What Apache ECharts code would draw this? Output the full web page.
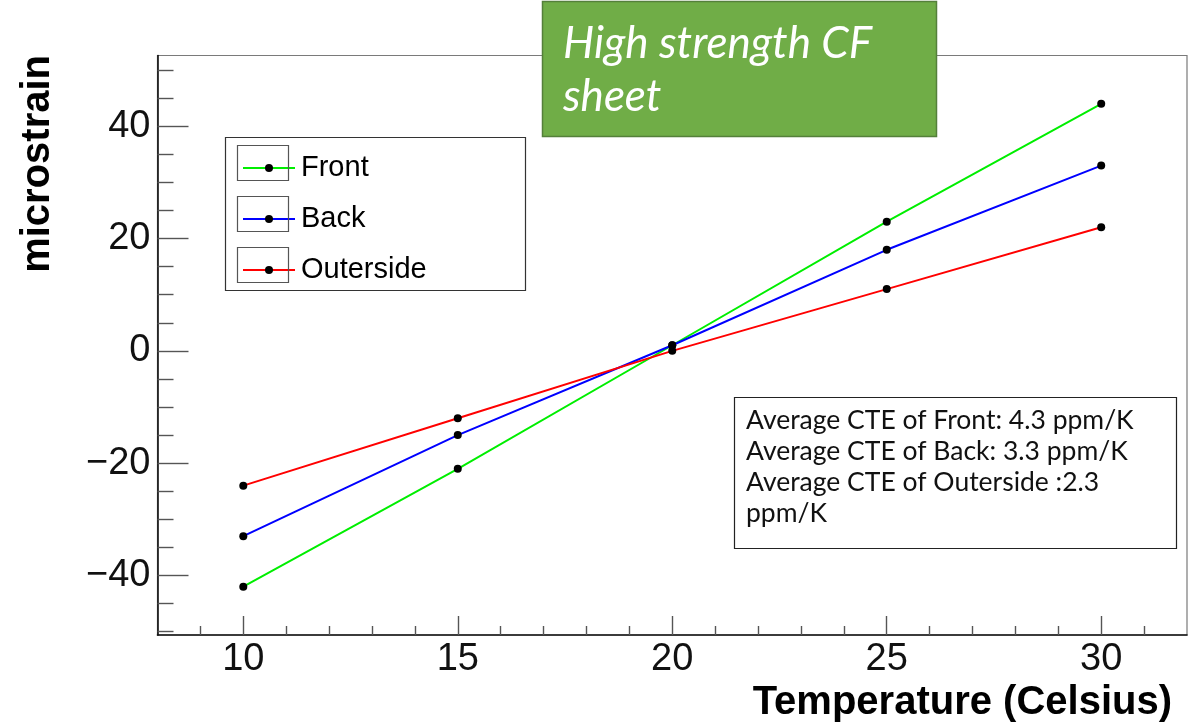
<!DOCTYPE html>
<html>
<head>
<meta charset="utf-8">
<script src="https://cdn.jsdelivr.net/npm/echarts@6/dist/echarts.min.js"></script>
<style>
html,body{margin:0;padding:0;background:#fff;}
#c{width:1204px;height:726px;}
</style>
</head>
<body>
<div id="c"></div>
<script>
// ---- data ----
var temperatures = [10, 15, 20, 25, 30];
var frontStrain = [-42, -21, 1, 23, 44];
var backStrain = [-33, -15, 1, 18, 33];
var outersideStrain = [-24, -12, 0, 11, 22];
var seriesNames = ['Front', 'Back', 'Outerside'];
var xMajorTicks = [10, 15, 20, 25, 30];
var xMinorTicks = [9, 11, 12, 13, 14, 16, 17, 18, 19, 21, 22, 23, 24, 26, 27, 28, 29, 31];
var yMajorTicks = [-40, -20, 0, 20, 40];
var yMinorTicks = [-50, -45, -35, -30, -25, -15, -10, -5, 5, 10, 15, 25, 30, 35, 45, 50];
var xTitle = 'Temperature (Celsius)';
var yTitle = 'microstrain';
var boxTitle = ['High strength CF', 'sheet'];
var cteLines = ['Average CTE of Front: 4.3 ppm/K', 'Average CTE of Back: 3.3 ppm/K', 'Average CTE of Outerside :2.3', 'ppm/K'];

function pairs(xs, ys) { return xs.map(function (x, i) { return [x, ys[i]]; }); }

var chart = echarts.init(document.getElementById('c'), null, {renderer: 'canvas'});
var FONT = '"Liberation Sans", Arial, Helvetica, sans-serif';
var XMIN = 8, XMAX = 32, YMIN = -50.6, YMAX = 52.6;

function fmtNum(v) { return v < 0 ? '\u2212' + Math.abs(v) : String(v); }

function mkSeries(name, ys, color) {
  return {
    name: name, type: 'line', data: pairs(temperatures, ys),
    symbol: 'circle', symbolSize: 8,
    lineStyle: {color: color, width: 2},
    itemStyle: {color: '#000'},
    emphasis: {disabled: true},
    animation: false, z: 3
  };
}

var baseX = {type: 'value', min: XMIN, max: XMAX, gridIndex: 0, splitLine: {show: false}};
var baseY = {type: 'value', min: YMIN, max: YMAX, gridIndex: 0, splitLine: {show: false}};

chart.setOption({
  animation: false,
  backgroundColor: '#fff',
  grid: {left: 157.5, right: 17, top: 55.5, bottom: 91, show: true, borderColor: '#7a7a7a', borderWidth: 1.2, backgroundColor: 'transparent'},
  xAxis: [
    Object.assign({}, baseX, {
      position: 'bottom',
      axisLine: {show: true, onZero: false, lineStyle: {color: '#111', width: 1.6}},
      axisTick: {show: true, inside: true, length: 19, customValues: xMajorTicks, lineStyle: {color: '#555', width: 1.4}},
      axisLabel: {show: true, customValues: xMajorTicks, formatter: fmtNum, fontFamily: FONT, fontSize: 38, color: '#111', margin: 6},
      name: xTitle, nameLocation: 'end', nameGap: -15,
      nameTextStyle: {fontFamily: FONT, fontSize: 40, fontWeight: 'bold', color: '#000', align: 'right', verticalAlign: 'top', padding: [48, 0, 0, 0]}
    }),
    Object.assign({}, baseX, {
      position: 'bottom',
      axisLine: {show: false, onZero: false},
      axisTick: {show: true, inside: true, length: 9, customValues: xMinorTicks, lineStyle: {color: '#555', width: 1.4}},
      axisLabel: {show: false}
    })
  ],
  yAxis: [
    Object.assign({}, baseY, {
      position: 'left',
      axisLine: {show: true, onZero: false, lineStyle: {color: '#111', width: 1.6}},
      axisTick: {show: true, inside: true, length: 31, customValues: yMajorTicks, lineStyle: {color: '#555', width: 1.4}},
      axisLabel: {show: true, customValues: yMajorTicks, formatter: fmtNum, fontFamily: FONT, fontSize: 38, color: '#111', margin: 7}
    }),
    Object.assign({}, baseY, {
      position: 'left',
      axisLine: {show: false, onZero: false},
      axisTick: {show: true, inside: true, length: 16, customValues: yMinorTicks, lineStyle: {color: '#555', width: 1.4}},
      axisLabel: {show: false}
    })
  ],
  legend: {
    data: seriesNames,
    orient: 'vertical', left: 237, top: 145,
    itemWidth: 52, itemHeight: 10, itemGap: 15,
    selectedMode: false,
    textStyle: {fontFamily: FONT, fontSize: 29, color: '#000', lineHeight: 36, padding: [0, 0, 0, 1]}
  },
  series: [
    mkSeries(seriesNames[0], frontStrain, '#00ee00'),
    mkSeries(seriesNames[1], backStrain, '#0000ff'),
    mkSeries(seriesNames[2], outersideStrain, '#ff0000')
  ],
  graphic: [
    // legend frame
    {type: 'rect', shape: {x: 225.5, y: 137.5, width: 300, height: 153}, style: {fill: 'none', stroke: '#333', lineWidth: 1.2}, z: 10, silent: true},
    {type: 'rect', shape: {x: 237.5, y: 145.5, width: 51, height: 35}, style: {fill: 'none', stroke: '#555', lineWidth: 1.2}, z: 10, silent: true},
    {type: 'rect', shape: {x: 237.5, y: 196.5, width: 51, height: 35}, style: {fill: 'none', stroke: '#555', lineWidth: 1.2}, z: 10, silent: true},
    {type: 'rect', shape: {x: 237.5, y: 247.5, width: 51, height: 35}, style: {fill: 'none', stroke: '#555', lineWidth: 1.2}, z: 10, silent: true},
    // green title box
    {type: 'rect', shape: {x: 542.5, y: 1.5, width: 394, height: 135}, style: {fill: '#70ad47', stroke: '#54803a', lineWidth: 1.5}, z: 20, silent: true},
    {type: 'text', x: 563, y: 44, style: {text: boxTitle[0], fill: '#fff', font: 'italic 44px Lato, "Open Sans", sans-serif', textVerticalAlign: 'middle'}, z: 21, silent: true},
    {type: 'text', x: 563, y: 97, style: {text: boxTitle[1], fill: '#fff', font: 'italic 44px Lato, "Open Sans", sans-serif', textVerticalAlign: 'middle'}, z: 21, silent: true},
    // CTE box
    {type: 'rect', shape: {x: 734.5, y: 397.5, width: 442, height: 151}, style: {fill: '#fff', stroke: '#222', lineWidth: 1.2}, z: 10, silent: true},
    {type: 'text', x: 746, y: 420, style: {text: cteLines[0], fill: '#111', font: '26.5px Lato, "Open Sans", sans-serif', textVerticalAlign: 'middle'}, z: 11, silent: true},
    {type: 'text', x: 746, y: 451, style: {text: cteLines[1], fill: '#111', font: '26.5px Lato, "Open Sans", sans-serif', textVerticalAlign: 'middle'}, z: 11, silent: true},
    {type: 'text', x: 746, y: 482, style: {text: cteLines[2], fill: '#111', font: '26.5px Lato, "Open Sans", sans-serif', textVerticalAlign: 'middle'}, z: 11, silent: true},
    {type: 'text', x: 746, y: 513, style: {text: cteLines[3], fill: '#111', font: '26.5px Lato, "Open Sans", sans-serif', textVerticalAlign: 'middle'}, z: 11, silent: true},
    // y axis title
    {type: 'text', x: 38, y: 55, rotation: Math.PI / 2, style: {text: yTitle, fill: '#000', font: 'bold 40px "Liberation Sans", Arial, sans-serif', textAlign: 'right', textVerticalAlign: 'middle'}, z: 10, silent: true}
  ]
});
</script>
</body>
</html>
